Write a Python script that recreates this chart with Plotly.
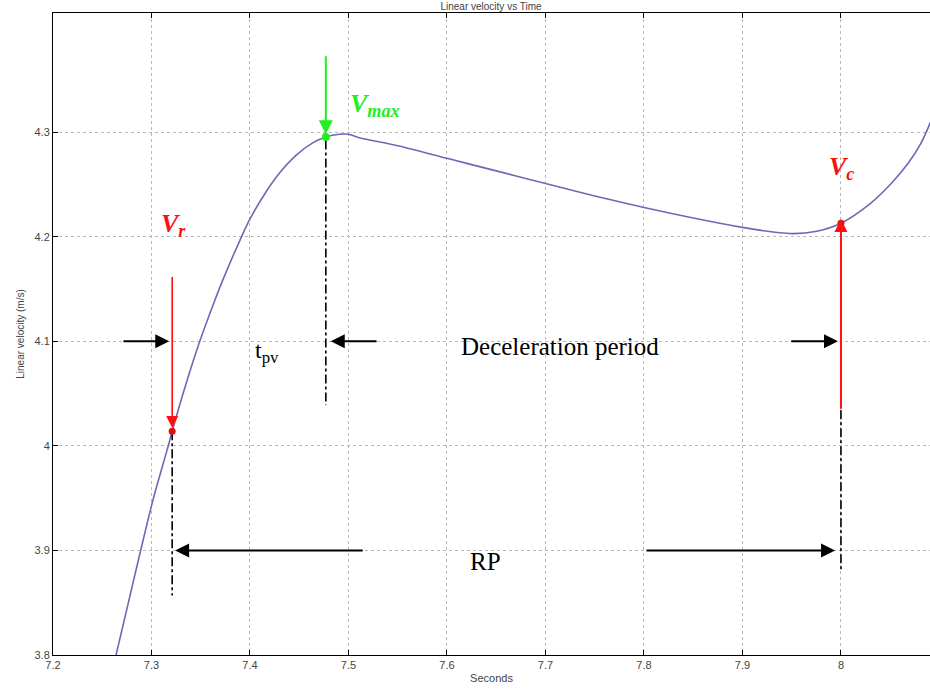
import plotly.graph_objects as go

# ---- data ----
time_s = [7.264, 7.276, 7.289, 7.302, 7.317, 7.321, 7.333, 7.349, 7.363, 7.373,
          7.390, 7.400, 7.417, 7.430, 7.447, 7.464, 7.477, 7.491, 7.500, 7.510,
          7.550, 7.600, 7.650, 7.700, 7.750, 7.800, 7.850, 7.900, 7.927, 7.952,
          7.974, 8.000, 8.030, 8.051, 8.068, 8.081, 8.092]
velocity = [3.800, 3.848, 3.900, 3.950, 4.000, 4.014, 4.053, 4.100, 4.136, 4.160,
            4.197, 4.217, 4.244, 4.261, 4.278, 4.290, 4.2955, 4.298, 4.298, 4.295,
            4.287, 4.275, 4.263, 4.251, 4.239, 4.228, 4.218, 4.209, 4.205, 4.203,
            4.205, 4.213, 4.232, 4.251, 4.270, 4.289, 4.312]

# key events
t_r, v_r = 7.321, 4.014
t_max, v_max = 7.477, 4.2955
t_c, v_c = 8.0, 4.213

x_ticks = [7.2, 7.3, 7.4, 7.5, 7.6, 7.7, 7.8, 7.9, 8.0]
x_labels = ["7.2", "7.3", "7.4", "7.5", "7.6", "7.7", "7.8", "7.9", "8"]
y_ticks = [3.8, 3.9, 4.0, 4.1, 4.2, 4.3]
y_labels = ["3.8", "3.9", "4", "4.1", "4.2", "4.3"]

fig = go.Figure()

# main curve
fig.add_trace(go.Scatter(x=time_s, y=velocity, mode="lines",
                         line=dict(color="#6a6ab8", width=1.6, shape="spline",
                                   smoothing=0.9),
                         hoverinfo="skip", showlegend=False))

# dash-dot vertical guide lines
guides = [(t_r, v_r, 3.857), (t_max, 4.292, 4.039), (t_c, 4.034, 3.88)]
for gx, y0, y1 in guides:
    fig.add_trace(go.Scatter(x=[gx, gx], y=[y0, y1], mode="lines",
                             line=dict(color="black", width=1.6, dash="dashdot"),
                             hoverinfo="skip", showlegend=False))

# event markers
fig.add_trace(go.Scatter(x=[t_r, t_c], y=[v_r, v_c], mode="markers",
                         marker=dict(color="#e01010", size=7),
                         hoverinfo="skip", showlegend=False))
fig.add_trace(go.Scatter(x=[t_max], y=[v_max], mode="markers",
                         marker=dict(color="#22ee22", size=8),
                         hoverinfo="skip", showlegend=False))

serif = "Liberation Serif, Times New Roman, serif"
ann = []

def arrow(x, y, ax, ay, color, width, size):
    ann.append(dict(x=x, y=y, ax=ax, ay=ay, xref="x", yref="y", axref="x", ayref="y",
                    text="", showarrow=True, arrowhead=2, arrowsize=size,
                    arrowwidth=width, arrowcolor=color, standoff=0, startstandoff=0))

# coloured event arrows
arrow(t_r, 4.017, t_r, 4.163, "#ff1010", 1.6, 1.5)
arrow(t_max, 4.298, t_max, 4.374, "#22ee22", 2, 1.4)
arrow(t_c, 4.217, t_c, 4.034, "#ff1010", 2, 1.3)
# black period arrows
arrow(7.318, 4.1, 7.27, 4.1, "black", 2, 1.4)
arrow(7.482, 4.1, 7.53, 4.1, "black", 2, 1.4)
arrow(7.997, 4.1, 7.948, 4.1, "black", 2, 1.4)
arrow(7.324, 3.9, 7.516, 3.9, "black", 2, 1.4)
arrow(7.994, 3.9, 7.801, 3.9, "black", 2, 1.4)

def label(x, y, text, color, size):
    ann.append(dict(x=x, y=y, xref="x", yref="y", text=text, showarrow=False,
                    font=dict(family=serif, size=size, color=color)))

label(7.322, 4.211, "<b><i>V<sub>r</sub></i></b>", "#ff1010", 26)
label(7.527, 4.326, "<b><i>V<sub>max</sub></i></b>", "#22ee22", 26)
label(8.001, 4.2655, "<b><i>V<sub>c</sub></i></b>", "#ff1010", 26)
label(7.417, 4.0895, "t<sub>pv</sub>", "black", 24)
label(7.715, 4.095, "Deceleration period", "black", 25)
label(7.639, 3.8895, "RP", "black", 25)

fig.update_layout(
    width=930, height=693,
    margin=dict(l=53, r=0, t=13, b=38),
    paper_bgcolor="white", plot_bgcolor="white",
    title=dict(text="Linear velocity vs Time", x=0.528, xanchor="center",
               y=0.9905, yanchor="middle",
               font=dict(family="Liberation Sans, Arial", size=10, color="#444")),
    annotations=ann,
    font=dict(family="Liberation Sans, Arial", size=11, color="#444"),
)
fig.update_xaxes(range=[7.2, 8.0904], tickvals=x_ticks, ticktext=x_labels,
                 showgrid=True, gridcolor="#b8b8b8", griddash="dot", gridwidth=1,
                 showline=True, linecolor="black", linewidth=1, mirror="ticks",
                 ticks="inside", ticklen=5, tickcolor="black", zeroline=False,
                 title=dict(text="Seconds", standoff=4,
                            font=dict(size=11, color="#444")))
fig.update_yaxes(range=[3.8, 4.414], tickvals=y_ticks, ticktext=y_labels,
                 showgrid=True, gridcolor="#b8b8b8", griddash="dot", gridwidth=1,
                 showline=True, linecolor="black", linewidth=1, mirror=False,
                 ticks="inside", ticklen=5, tickcolor="black", zeroline=False,
                 title=dict(text="Linear velocity (m/s)", standoff=8,
                            font=dict(size=10, color="#444")))

fig.write_html("out.html")
